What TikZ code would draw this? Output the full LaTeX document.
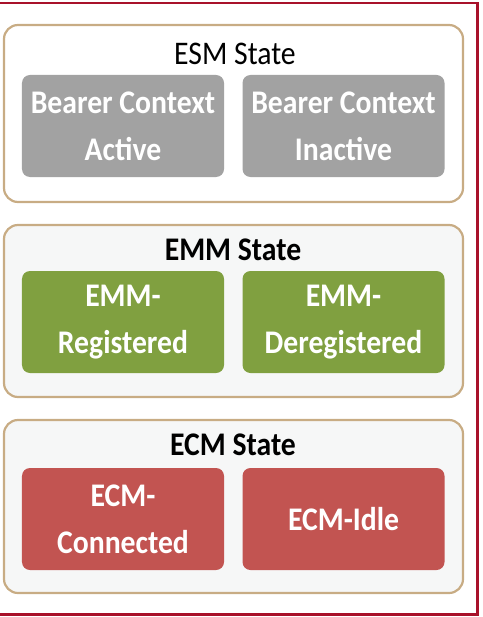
\documentclass[tikz,border=0pt]{standalone}
\usepackage{fontspec}
\setmainfont{Carlito}[FakeStretch=0.9]
\usetikzlibrary{positioning}
\definecolor{frame}{HTML}{A8112A}
\definecolor{panelline}{HTML}{C8AC84}
\definecolor{panelfill}{HTML}{F6F7F7}
\definecolor{esmgray}{HTML}{A2A2A2}
\definecolor{emmgreen}{HTML}{80A040}
\definecolor{ecmred}{HTML}{C25451}
\tikzset{
  panel/.style={draw=panelline, line width=2.2bp, rounded corners=14bp, fill=panelfill},
  statebox/.style={rounded corners=8bp, draw=none, text=white, align=center,
    minimum width=202bp, minimum height=102bp, inner sep=0pt,
    font=\fontsize{33bp}{47bp}\selectfont\bfseries},
  paneltitle/.style={text=black, font=\fontsize{33bp}{40bp}\selectfont, inner sep=0pt, anchor=base},
}
\begin{document}
\begin{tikzpicture}[x=1bp, y=-1bp]
\useasboundingbox (0,0) rectangle (483,617);
\begin{scope}
\clip (0,0) rectangle (483,617);
\draw[frame, line width=2.6bp] (-3,3) rectangle (477.5,614.5);
\end{scope}

% ESM panel
\draw[panel, fill=white] (4,25) rectangle (463,202);
\node[paneltitle] (esm) at (235,65) {ESM State};
\node[statebox, fill=esmgray] (bca) at (123,126) {Bearer Context\\Active};
\node[statebox, fill=esmgray] (bci) at (343.5,126) {Bearer Context\\Inactive};

% EMM panel
\draw[panel] (4,225) rectangle (463,397);
\node[paneltitle] (emm) at (233,260) {\textbf{EMM State}};
\node[statebox, fill=emmgreen] (emmreg) at (123,322) {EMM-\\Registered};
\node[statebox, fill=emmgreen] (emmdereg) at (343.5,322) {EMM-\\Deregistered};

% ECM panel
\draw[panel] (4,420) rectangle (463,593);
\node[paneltitle] (ecm) at (233,455) {\textbf{ECM State}};
\node[statebox, fill=ecmred] (ecmconn) at (123,519) {ECM-\\Connected};
\node[statebox, fill=ecmred] (ecmidle) at (343.5,519) {ECM-Idle};
\end{tikzpicture}
\end{document}
